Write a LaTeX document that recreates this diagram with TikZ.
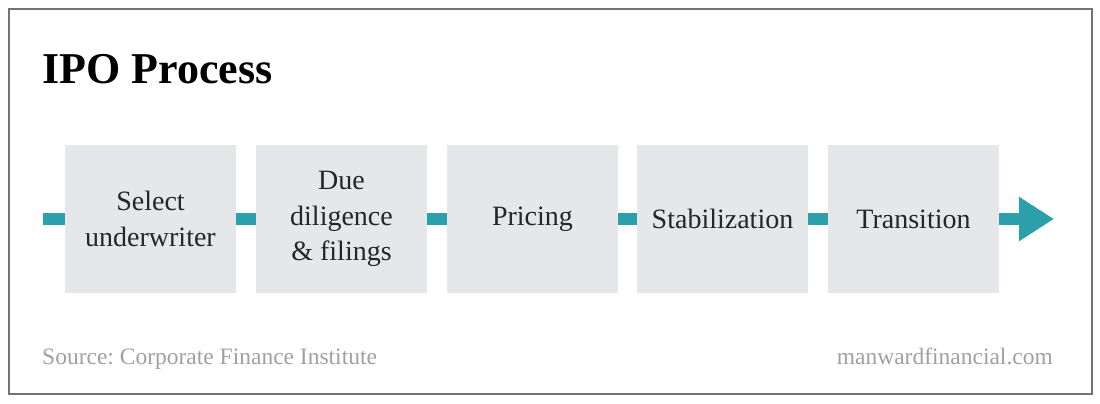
\documentclass[tikz,border=0pt]{standalone}
\usepackage{fontspec}
\setmainfont{Liberation Serif}
\usetikzlibrary{arrows.meta}
\definecolor{ipoteal}{RGB}{44,160,170}
\definecolor{ipogrey}{RGB}{230,231,232}
\definecolor{footgrey}{RGB}{160,160,160}
\frenchspacing
\begin{document}
\begin{tikzpicture}[
    x=1pt, y=-1pt,
    stage/.style={fill=ipogrey,inner sep=0pt,minimum width=171pt,minimum height=148pt,
      align=center,font=\fontsize{28}{35.5}\selectfont,text=black!85},
    link/.style={draw=ipoteal,line width=12pt},
    footnote/.style={inner sep=0pt,text=footgrey,font=\fontsize{23.5}{27}\selectfont}
    ]
    \useasboundingbox (0, 0) rectangle (1100, 404);
    \draw [black!55, line width=1.2pt] (9, 9) rectangle (1092, 394);

    \node (title) at (42, 84) [anchor=base west, inner sep=0pt, font=\fontsize{44}{50}\selectfont\bfseries] {IPO Process};

    \coordinate (start) at (43, 219);
    \node (select) at (150.5, 219) [stage] {Select\\underwriter};
    \node (diligence) at (341.5, 219) [stage] {Due\\diligence\\\& filings};
    \node (pricing) at (532.5, 219) [stage] {Pricing};
    \node (stabilize) at (722.5, 219) [stage] {Stabilization};
    \node (transition) at (913.5, 219) [stage] {Transition};
    \coordinate (tip) at (1054, 219);

    \draw [link] (start) to (select);
    \draw [link] (select) to (diligence);
    \draw [link] (diligence) to (pricing);
    \draw [link] (pricing) to (stabilize);
    \draw [link] (stabilize) to (transition);
    \draw [link, -{Triangle[length=35pt,width=42pt]}, shorten <=-0.1pt] (transition) to (tip);

    \node (source) at (42, 364) [footnote, anchor=base west] {Source: Corporate Finance Institute};
    \node (site) at (1053, 364) [footnote, anchor=base east] {manwardfinancial.com};
  \end{tikzpicture}
\end{document}
